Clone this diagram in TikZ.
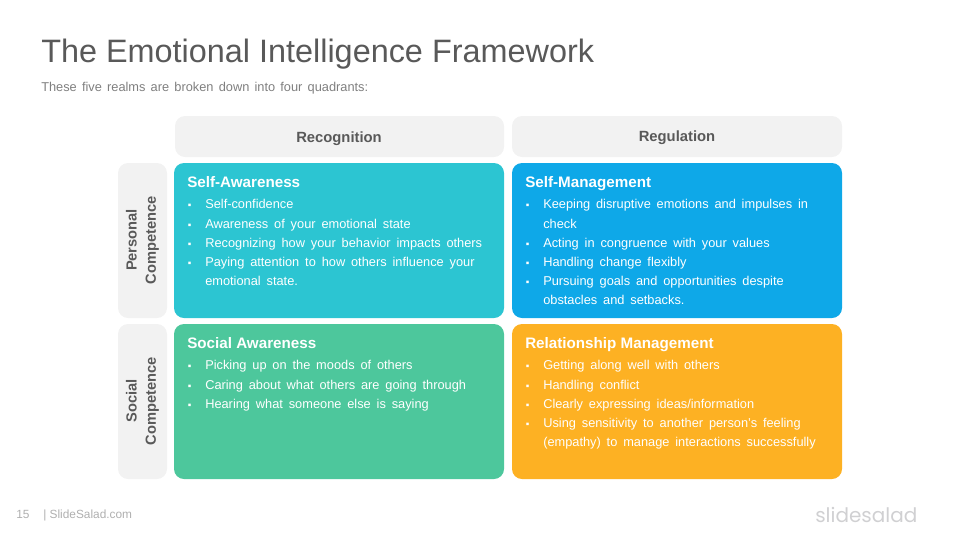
\documentclass[tikz,border=0pt]{standalone}
\usepackage{fontspec}
\setmainfont{Liberation Sans}
\newfontfamily\logofont{Poppins}
\usetikzlibrary{positioning}
\newcommand{\bodyfont}{\fontsize{9.6}{12}\selectfont\spaceskip 4.4pt\relax}
\newcommand{\subfont}{\fontsize{9.6}{12}\selectfont\spaceskip 3.9pt\relax}
\definecolor{inktitle}{RGB}{89,89,89}
\definecolor{inksub}{RGB}{127,127,127}
\definecolor{inkfoot}{RGB}{175,175,175}
\definecolor{inklogo}{RGB}{208,208,210}
\definecolor{panelgray}{RGB}{242,242,242}
\definecolor{panelteal}{RGB}{44,197,210}
\definecolor{panelblue}{RGB}{14,168,232}
\definecolor{panelgreen}{RGB}{77,199,156}
\definecolor{panelorange}{RGB}{253,177,35}
\tikzset{
  panel/.style={rounded corners=7.5pt},
  headtext/.style={text=inktitle,font=\fontsize{11.1}{14}\selectfont\bfseries,inner sep=0pt},
  sidetext/.style={text=inktitle,font=\fontsize{11}{14.4}\selectfont\bfseries,inner sep=0pt,rotate=90,align=center},
  boxtitle/.style={anchor=base west,text=white,font=\fontsize{11.4}{14}\selectfont\bfseries,inner sep=0pt},
  boxline/.style={anchor=base west,yshift=-0.75pt,text=white,font=\bodyfont,inner sep=0pt},
  boxdot/.style={anchor=base west,xshift=0.4pt,yshift=-0.75pt,text=white,font=\fontsize{7.5}{12}\selectfont,inner sep=0pt},
}
\begin{document}
\begin{tikzpicture}[x=0.75pt,y=0.75pt,yscale=-1,xscale=1]
\useasboundingbox (0,0) rectangle (960,540);

%Panels
\fill [panelgray,panel] (175,116) rectangle (504,157);
\fill [panelgray,panel] (512,116) rectangle (842,157);
\fill [panelgray,panel] (118,163) rectangle (167,318);
\fill [panelgray,panel] (118,324) rectangle (167,479);
\fill [panelteal,panel] (174,163) rectangle (504,318);
\fill [panelblue,panel] (512,163) rectangle (842,318);
\fill [panelgreen,panel] (174,324) rectangle (504,479);
\fill [panelorange,panel] (512,324) rectangle (842,479);

% Title
\node (title) [anchor=base west,inner sep=0pt,text=inktitle,font=\fontsize{24.3}{28}\selectfont] at (41,62) {The Emotional Intelligence Framework};
\node (subtitle) [anchor=base west,inner sep=0pt,text=inksub,font=\subfont] at (41,91) {These five realms are broken down into four quadrants:};

% Headers
\node (recognition) [headtext] at (339,138.5) {Recognition};
\node (regulation) [headtext] at (677,137.5) {Regulation};
\node (personal) [sidetext] at (142.5,240) {Personal\\Competence};
\node (social) [sidetext] at (142.5,401) {Social\\Competence};

% Self-Awareness
\node (saTitle) [boxtitle] at (187,187) {Self-Awareness};
\node (saDotA) [boxdot] at (187,207) {▪};
\node (saA) [boxline] at (205,207) {Self-confidence};
\node (saDotB) [boxdot] at (187,227) {▪};
\node (saB) [boxline] at (205,227) {Awareness of your emotional state};
\node (saDotC) [boxdot] at (187,246) {▪};
\node (saC) [boxline] at (205,246) {Recognizing how your behavior impacts others};
\node (saDotD) [boxdot] at (187,265) {▪};
\node (saD) [boxline] at (205,265) {Paying attention to how others influence your};
\node (saE) [boxline] at (205,284) {emotional state.};

% Self-Management
\node (smTitle) [boxtitle] at (525,187) {Self-Management};
\node (smDotA) [boxdot] at (525,207) {▪};
\node (smA) [boxline] at (543,207) {Keeping disruptive emotions and impulses in};
\node (smB) [boxline] at (543,227) {check};
\node (smDotC) [boxdot] at (525,246) {▪};
\node (smC) [boxline] at (543,246) {Acting in congruence with your values};
\node (smDotD) [boxdot] at (525,265) {▪};
\node (smD) [boxline] at (543,265) {Handling change flexibly};
\node (smDotE) [boxdot] at (525,284) {▪};
\node (smE) [boxline] at (543,284) {Pursuing goals and opportunities despite};
\node (smF) [boxline] at (543,303) {obstacles and setbacks.};

% Social Awareness
\node (soTitle) [boxtitle] at (187,348) {Social Awareness};
\node (soDotA) [boxdot] at (187,368) {▪};
\node (soA) [boxline] at (205,368) {Picking up on the moods of others};
\node (soDotB) [boxdot] at (187,388) {▪};
\node (soB) [boxline] at (205,388) {Caring about what others are going through};
\node (soDotC) [boxdot] at (187,407) {▪};
\node (soC) [boxline] at (205,407) {Hearing what someone else is saying};

% Relationship Management
\node (rmTitle) [boxtitle] at (525,348) {Relationship Management};
\node (rmDotA) [boxdot] at (525,368) {▪};
\node (rmA) [boxline] at (543,368) {Getting along well with others};
\node (rmDotB) [boxdot] at (525,388) {▪};
\node (rmB) [boxline] at (543,388) {Handling conflict};
\node (rmDotC) [boxdot] at (525,407) {▪};
\node (rmC) [boxline] at (543,407) {Clearly expressing ideas/information};
\node (rmDotD) [boxdot] at (525,426) {▪};
\node (rmD) [boxline] at (543,426) {Using sensitivity to another person's feeling};
\node (rmE) [boxline] at (543,445) {(empathy) to manage interactions successfully};

% Footer
\node (pagenum) [anchor=base west,inner sep=0pt,text=inkfoot,font=\fontsize{8.9}{10}\selectfont] at (16,518) {15};
\node (footer) [anchor=base west,inner sep=0pt,text=inkfoot,font=\fontsize{8.9}{10}\selectfont] at (43,518) {| SlideSalad.com};
\node (logo) [anchor=base west,inner sep=0pt,text=inklogo,font=\logofont\fontsize{15}{20}\selectfont] at (815,522) {slidesalad};
\end{tikzpicture}
\end{document}
